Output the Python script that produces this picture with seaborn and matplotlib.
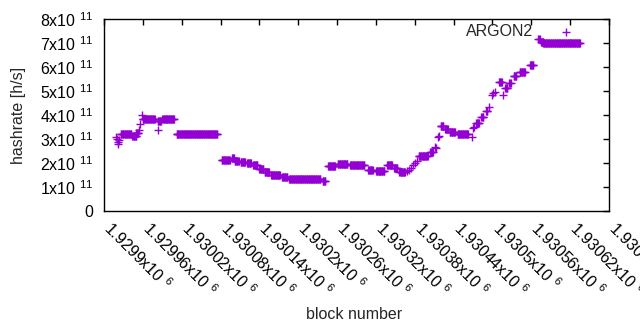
import numpy as np
import pandas as pd
import matplotlib; matplotlib.use('Agg')
import matplotlib.pyplot as plt
import matplotlib.transforms as mtransforms
import seaborn as sns

# ===== DATA (hashrate in units of 1e11 h/s) =====
# flat runs: first block, last block, hashrate
seg_start = [1929926, 1929944, 1929950, 1929960, 1929983, 1929990, 1930012, 1930082,
             1930098, 1930102, 1930111, 1930121, 1930130, 1930140, 1930148, 1930158,
             1930175, 1930186, 1930238, 1930246, 1930261, 1930280, 1930308, 1930320,
             1930337, 1930348, 1930356, 1930386, 1930404, 1930420, 1930427, 1930434,
             1930446, 1930475, 1930483, 1930490, 1930510, 1930520, 1930526, 1930533,
             1930542, 1930558, 1930571, 1930575, 1930578]
seg_end = [1929942, 1929950, 1929953, 1929978, 1929988, 1930008, 1930075, 1930094,
           1930101, 1930108, 1930118, 1930127, 1930137, 1930146, 1930155, 1930172,
           1930183, 1930234, 1930242, 1930257, 1930276, 1930302, 1930315, 1930333,
           1930345, 1930353, 1930365, 1930400, 1930408, 1930424, 1930431, 1930442,
           1930462, 1930479, 1930486, 1930492, 1930514, 1930523, 1930528, 1930537,
           1930550, 1930563, 1930573, 1930578, 1930635]
seg_rate = [3.22, 3.12, 3.24, 3.83, 3.76, 3.83, 3.19, 2.12,
            2.20, 2.08, 2.03, 1.99, 1.90, 1.76, 1.64, 1.50,
            1.43, 1.32, 1.27, 1.88, 1.96, 1.92, 1.71, 1.67,
            1.92, 1.80, 1.61, 2.30, 2.47, 3.54, 3.40, 3.30,
            3.20, 3.68, 3.93, 4.18, 5.36, 5.11, 5.32, 5.63,
            5.80, 6.08, 7.17, 7.05, 6.99]
# isolated blocks
pt_block = [1929918, 1929920, 1929921, 1929922, 1929923, 1929954, 1929956, 1929959,
            1929983, 1930368, 1930371, 1930374, 1930377, 1930380, 1930383, 1930411,
            1930413, 1930416, 1930418, 1930468, 1930470, 1930472, 1930495, 1930499,
            1930501, 1930504, 1930516]
pt_rate = [3.08, 2.99, 2.89, 2.79, 2.95, 3.37, 3.61, 4.01,
           3.37, 1.65, 1.72, 1.80, 1.90, 2.00, 2.08, 2.68,
           2.62, 3.08, 3.12, 3.10, 3.46, 3.50, 4.35, 4.83,
           4.90, 4.97, 4.83]

y_ticks = [0, 1e11, 2e11, 3e11, 4e11, 5e11, 6e11, 7e11, 8e11]
y_labels = ['0'] + [f'{i}x10 $^{{11}}$' for i in range(1, 9)]
x_ticks = [1929900, 1929960, 1930020, 1930080, 1930140, 1930200, 1930260,
           1930320, 1930380, 1930440, 1930500, 1930560, 1930620, 1930680]
x_names = ['1.9299', '1.92996', '1.93002', '1.93008', '1.93014', '1.9302', '1.93026',
           '1.93032', '1.93038', '1.93044', '1.9305', '1.93056', '1.93062', '1.93068']

blocks, rates = [], []
for s, e, r in zip(seg_start, seg_end, seg_rate):
    b = list(range(s, e + 1))
    blocks += b
    rates += [r] * len(b)
blocks += pt_block
rates += pt_rate
df = pd.DataFrame({'block': blocks, 'hashrate': np.array(rates) * 1e11})

# ===== PLOT =====
sns.set_style('white')
plt.rcParams['font.family'] = ['Liberation Sans', 'DejaVu Sans']
plt.rcParams['mathtext.fontset'] = 'custom'
plt.rcParams['mathtext.rm'] = 'Liberation Sans'
plt.rcParams['mathtext.it'] = 'Liberation Sans'
FS = 11.5
plt.rcParams['font.size'] = FS

fig = plt.figure(figsize=(6.4, 3.3), dpi=100)
ax = fig.add_axes([104/640, 1 - 211/330, 505/640, 192/330])

sns.scatterplot(data=df, x='block', y='hashrate', marker='+', color='#9400d3',
                s=34, linewidth=1, ax=ax, label='ARGON2')

ax.set_xlim(1929900, 1930680)
ax.set_ylim(0, 8e11)
ax.set_yticks(y_ticks)
ax.set_yticklabels(y_labels)
ax.set_xticks(x_ticks)
ax.set_xticklabels([f'{n}x10 $^{{6}}$' for n in x_names], rotation=-45,
                   ha='left', va='center', rotation_mode='anchor')
ax.tick_params(direction='in', length=4, width=1, top=True, right=True,
               labelsize=FS, colors='black')
ax.tick_params(axis='x', pad=10)
ax.tick_params(axis='y', pad=8)
shift = mtransforms.ScaledTranslation(3/100, 0, fig.dpi_scale_trans)
for lab in ax.get_xticklabels():
    lab.set_transform(lab.get_transform() + shift)
for sp in ax.spines.values():
    sp.set_color('black'); sp.set_linewidth(1)

ax.set_xlabel('block number', fontsize=FS)
ax.set_ylabel('hashrate [h/s]', fontsize=FS)
ax.xaxis.set_label_coords(0.496, -0.50)
ax.yaxis.set_label_coords(-0.155, 0.5)

ax.legend(loc='upper right', bbox_to_anchor=(0.947, 0.975), frameon=False,
          markerfirst=False, borderpad=0, borderaxespad=0, handlelength=2,
          handletextpad=1.1, fontsize=FS)

plt.savefig('out.png', dpi=100)
